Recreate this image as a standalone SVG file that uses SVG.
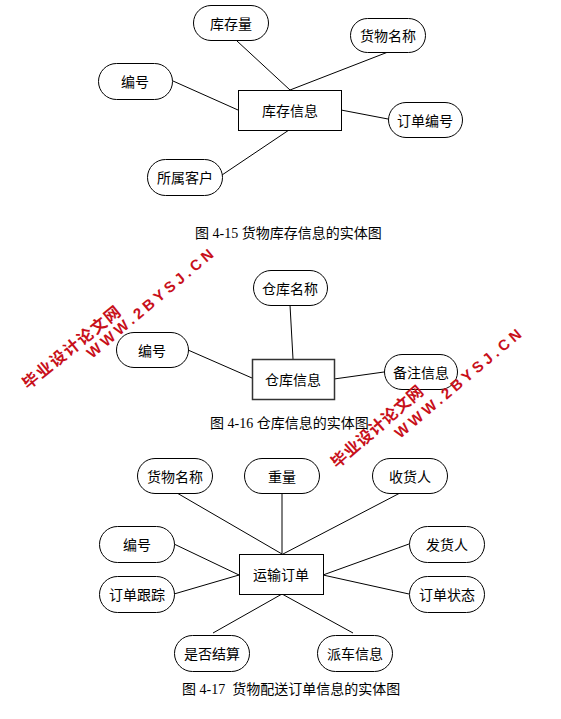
<svg xmlns="http://www.w3.org/2000/svg" width="561" height="719" viewBox="0 0 561 719">
<style>
.attr{fill:#fff;stroke:#000;stroke-width:1}
.ent{fill:#fff;stroke:#000;stroke-width:1}
.lbl{font-family:"Noto Sans CJK SC","Liberation Sans",sans-serif;font-size:14px;fill:#000;text-anchor:middle;dominant-baseline:central}
.cap{font-family:"Liberation Serif","Noto Sans CJK SC",serif;font-size:14px;fill:#000}
.conn line{stroke:#000;stroke-width:1}
.wm{font-family:"Noto Sans CJK SC","Liberation Sans",sans-serif;font-weight:bold;fill:#c8101a}
.wml{font-family:"Liberation Sans","DejaVu Sans",sans-serif;font-weight:bold;fill:#c8101a}
</style>
<rect width="561" height="719" fill="#fff"/>
<!-- Diagram 4-15 -->
<g class="conn" id="conn1">
<line x1="237" y1="41" x2="290" y2="90"/>
<line x1="388" y1="52" x2="290" y2="90"/>
<line x1="173" y1="81" x2="238" y2="110"/>
<line x1="341" y1="110" x2="388" y2="119"/>
<line x1="222" y1="175" x2="289" y2="130"/>
</g>
<g id="n1_kcxx"><rect class="ent" x="238.5" y="90.5" width="103" height="40"/><text class="lbl" x="290" y="110">库存信息</text></g>
<g id="n1_kcl"><rect class="attr" x="193.5" y="5.5" width="75" height="35" rx="17.5"/><text class="lbl" x="231" y="23">库存量</text></g>
<g id="n1_hwmc"><rect class="attr" x="350.5" y="18.5" width="75" height="34" rx="17"/><text class="lbl" x="388" y="35">货物名称</text></g>
<g id="n1_bh"><rect class="attr" x="98.5" y="63.5" width="74" height="36" rx="18"/><text class="lbl" x="135" y="81">编号</text></g>
<g id="n1_ddbh"><rect class="attr" x="388.5" y="102.5" width="74" height="35" rx="17.5"/><text class="lbl" x="425" y="120">订单编号</text></g>
<g id="n1_sskh"><rect class="attr" x="147.5" y="159.5" width="75" height="36" rx="18"/><text class="lbl" x="185" y="177">所属客户</text></g>
<text class="cap" x="195" y="238" xml:space="preserve">图 4-15 货物库存信息的实体图</text>
<!-- Diagram 4-16 -->
<g class="conn" id="conn2">
<line x1="290" y1="305" x2="293" y2="359"/>
<line x1="188" y1="350" x2="252" y2="378"/>
<line x1="334" y1="379" x2="384" y2="372"/>
</g>
<g id="n2_ckxx"><rect class="ent" x="252.5" y="359.5" width="82" height="40" style="stroke:#333;stroke-width:1.5"/><text class="lbl" x="293" y="379">仓库信息</text></g>
<g id="n2_ckmc"><rect class="attr" x="253.5" y="270.5" width="74" height="35" rx="17.5"/><text class="lbl" x="290" y="288">仓库名称</text></g>
<g id="n2_bh"><rect class="attr" x="116.5" y="332.5" width="72" height="35" rx="17.5"/><text class="lbl" x="152" y="350">编号</text></g>
<g id="n2_bzxx"><rect class="attr" x="384.5" y="354.5" width="73" height="35" rx="17.5"/><text class="lbl" x="421" y="372">备注信息</text></g>
<text class="cap" x="210" y="428" xml:space="preserve">图 4-16 仓库信息的实体图</text>
<!-- Diagram 4-17 -->
<g class="conn" id="conn3">
<line x1="177" y1="493" x2="282" y2="554"/>
<line x1="282" y1="493" x2="282" y2="554"/>
<line x1="400" y1="493" x2="283" y2="554"/>
<line x1="174" y1="544" x2="239" y2="575"/>
<line x1="174" y1="594" x2="239" y2="575"/>
<line x1="409" y1="544" x2="323" y2="575"/>
<line x1="409" y1="594" x2="323" y2="575"/>
<line x1="213" y1="633" x2="282" y2="594"/>
<line x1="353" y1="633" x2="282" y2="594"/>
</g>
<g id="n3_ysdd"><rect class="ent" x="239.5" y="554.5" width="84" height="40"/><text class="lbl" x="281" y="574">运输订单</text></g>
<g id="n3_hwmc"><rect class="attr" x="137.5" y="458.5" width="75" height="35" rx="17.5"/><text class="lbl" x="175" y="476">货物名称</text></g>
<g id="n3_zl"><rect class="attr" x="244.5" y="458.5" width="75" height="35" rx="17.5"/><text class="lbl" x="282" y="476">重量</text></g>
<g id="n3_shr"><rect class="attr" x="372.5" y="458.5" width="75" height="35" rx="17.5"/><text class="lbl" x="410" y="476">收货人</text></g>
<g id="n3_bh"><rect class="attr" x="99.5" y="526.5" width="75" height="36" rx="18"/><text class="lbl" x="137" y="544">编号</text></g>
<g id="n3_fhr"><rect class="attr" x="409.5" y="526.5" width="75" height="36" rx="18"/><text class="lbl" x="447" y="544">发货人</text></g>
<g id="n3_ddgz"><rect class="attr" x="99.5" y="576.5" width="75" height="36" rx="18"/><text class="lbl" x="137" y="594">订单跟踪</text></g>
<g id="n3_ddzt"><rect class="attr" x="409.5" y="576.5" width="75" height="36" rx="18"/><text class="lbl" x="447" y="594">订单状态</text></g>
<g id="n3_sfjs"><rect class="attr" x="174.5" y="635.5" width="75" height="36" rx="18"/><text class="lbl" x="212" y="653">是否结算</text></g>
<g id="n3_pcxx"><rect class="attr" x="317.5" y="635.5" width="75" height="36" rx="18"/><text class="lbl" x="355" y="653">派车信息</text></g>
<text class="cap" x="182" y="694" xml:space="preserve">图 4-17  货物配送订单信息的实体图</text>
<!-- Watermarks -->
<g id="watermark1">
<text class="wm" font-size="16" transform="translate(28,390) rotate(-39)" textLength="121" lengthAdjust="spacing">毕业设计论文网</text>
<text class="wml" font-size="15" transform="translate(92,359) rotate(-40)" textLength="160" lengthAdjust="spacing">WWW.2BYSJ.CN</text>
</g>
<g id="watermark2">
<text class="wm" font-size="16" transform="translate(337,469) rotate(-41)" textLength="116" lengthAdjust="spacing">毕业设计论文网</text>
<text class="wml" font-size="15" transform="translate(400,439) rotate(-40)" textLength="160" lengthAdjust="spacing">WWW.2BYSJ.CN</text>
</g>
</svg>
